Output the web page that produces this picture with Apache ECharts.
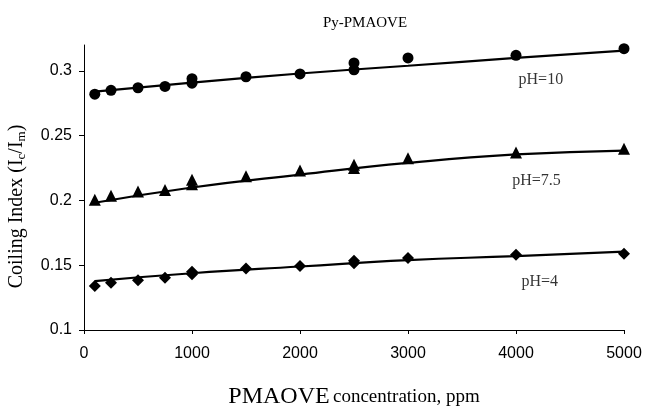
<!DOCTYPE html>
<html>
<head>
<meta charset="utf-8">
<script src="https://cdn.jsdelivr.net/npm/echarts@6/dist/echarts.min.js"></script>
<style>
  html, body { margin: 0; padding: 0; background: #fff; }
  #chart { width: 645px; height: 406px; }
</style>
</head>
<body>
<div id="chart"></div>
<script>
// measured points
const concX = [100, 250, 500, 750, 1000, 1000, 1500, 2000, 2500, 2500, 3000, 4000, 5000];
const ph10 = [0.282, 0.285, 0.287, 0.288, 0.2905, 0.294, 0.2955, 0.2977, 0.3008, 0.3062, 0.310, 0.312, 0.3172];
const ph75 = [0.2005, 0.2037, 0.207, 0.208, 0.2125, 0.216, 0.2187, 0.2232, 0.225, 0.2275, 0.2325, 0.237, 0.240];
const ph4 = [0.134, 0.1365, 0.1385, 0.1404, 0.143, 0.145, 0.1474, 0.1495, 0.1516, 0.1534, 0.1555, 0.158, 0.1588];

// trend lines
const fitX = [100, 1000, 2000, 3000, 4000, 5000];
const fit10 = [0.284, 0.291, 0.298, 0.304, 0.310, 0.3157];
const fit75 = [0.1982, 0.210, 0.220, 0.229, 0.2355, 0.2385];
const fit4 = [0.1378, 0.1438, 0.149, 0.154, 0.157, 0.1605];

const yTicks = [0.1, 0.15, 0.2, 0.25, 0.3];

// curve labels
const labelX = [4230, 4190, 4220];
const labelY = [0.293, 0.2155, 0.137];
const labelText = ["pH=10", "pH=7.5", "pH=4"];

const pair = (xs, ys) => xs.map((x, i) => [x, ys[i]]);

const chart = echarts.init(document.getElementById("chart"));

const serif = "Liberation Serif";
const sans = "Liberation Sans";

const pointSeries = (data, symbol, size) => ({
  type: "scatter",
  data: data,
  symbol: symbol,
  symbolSize: size,
  itemStyle: { color: "#000", opacity: 1 },
  z: 3,
});

const fitSeries = (data) => ({
  type: "line",
  data: data,
  smooth: true,
  showSymbol: false,
  lineStyle: { color: "#000", width: 2.2 },
  z: 2,
});

chart.setOption({
  animation: false,
  title: {
    text: "Py-PMAOVE",
    left: 360,
    top: 11,
    textAlign: "center",
    textStyle: { fontFamily: serif, fontSize: 15, fontWeight: "normal", color: "#000" },
  },
  grid: { left: 84, right: 21, top: 45, bottom: 76, containLabel: false, outerBoundsMode: "none" },
  xAxis: {
    type: "value",
    min: 0,
    max: 5000,
    interval: 1000,
    splitLine: { show: false },
    axisLine: { lineStyle: { color: "#000", width: 1 } },
    axisTick: { show: true, length: 4, lineStyle: { color: "#000" } },
    axisLabel: { color: "#000", fontFamily: sans, fontSize: 16, margin: 16, formatter: (v) => String(v) },
    name: "{a|PMAOVE} {b|concentration, ppm}",
    nameLocation: "middle",
    nameGap: 55,
    nameTextStyle: {
      rich: {
        a: { fontFamily: serif, fontSize: 24, color: "#000" },
        b: { fontFamily: serif, fontSize: 19, color: "#000" },
      },
    },
  },
  yAxis: {
    type: "value",
    min: 0.1,
    max: 0.32,
    interval: 0.05,
    splitLine: { show: false },
    axisLine: { show: true, lineStyle: { color: "#000", width: 1 } },
    axisTick: { show: true, length: 5, customValues: yTicks, lineStyle: { color: "#000" } },
    axisLabel: { color: "#000", fontFamily: sans, fontSize: 16, margin: 12, customValues: yTicks },
    name: "{a|Coiling Index (I}{s|c}{a|/I}{s|m}{a|)}",
    nameLocation: "middle",
    nameGap: 56,
    nameTextStyle: {
      padding: [0, 38, 0, 0],
      rich: {
        a: { fontFamily: serif, fontSize: 20, color: "#000" },
        s: { fontFamily: serif, fontSize: 13, color: "#000", verticalAlign: "bottom", padding: [9, 0, 0, 0] },
      },
    },
  },
  series: [
    fitSeries(pair(fitX, fit10)),
    fitSeries(pair(fitX, fit75)),
    fitSeries(pair(fitX, fit4)),
    pointSeries(pair(concX, ph10), "circle", 11),
    pointSeries(pair(concX, ph75), "triangle", 12),
    pointSeries(pair(concX, ph4), "diamond", 12),
    {
      type: "scatter",
      symbol: "circle",
      symbolSize: 2,
      itemStyle: { color: "rgba(0,0,0,0)" },
      silent: true,
      data: labelX.map((x, i) => ({ value: [x, labelY[i]], name: labelText[i] })),
      label: {
        show: true,
        position: "inside",
        formatter: (p) => p.name,
        color: "#000",
        fontFamily: serif,
        fontSize: 16,
      },
      z: 4,
    },
  ],
});
</script>
</body>
</html>
